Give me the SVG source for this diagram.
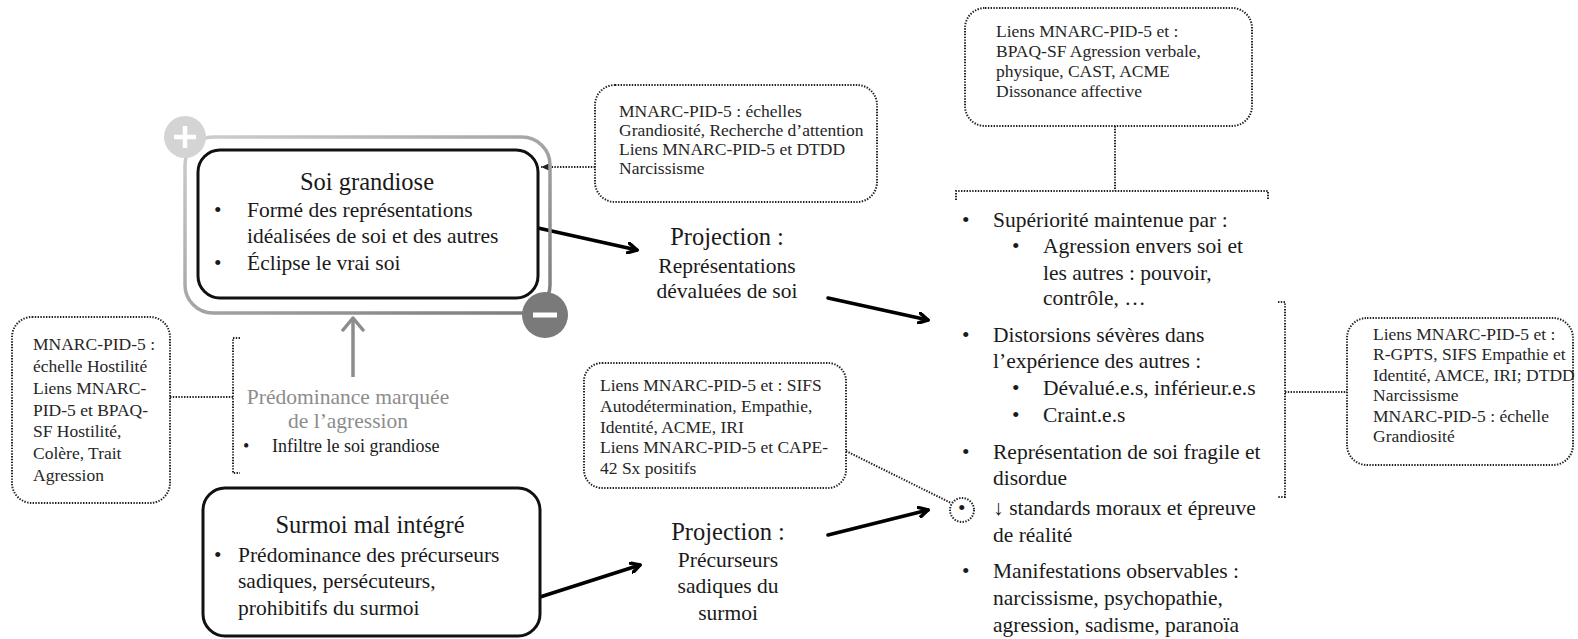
<svg xmlns="http://www.w3.org/2000/svg" width="1578" height="639" viewBox="0 0 1578 639">
<defs>
<style>
text{font-family:"Liberation Serif","Times New Roman",serif;fill:#1a1a1a}
.t{font-size:24.5px}
.b{font-size:21.5px}
.s{font-size:17.5px;fill:#262626}
.g{fill:#8c8c8c}
.box{fill:#fff;stroke:#111;stroke-width:3}
.dot{fill:none;stroke:#222;stroke-width:2;stroke-dasharray:1.4 1.4}
.arr{fill:none;stroke:#000;stroke-width:3.5;stroke-linecap:round}
</style>
<linearGradient id="gr" x1="0" y1="0" x2="1" y2="1">
<stop offset="0" stop-color="#cfcfcf"/>
<stop offset="1" stop-color="#7a7a7a"/>
</linearGradient>
<marker id="ah" markerWidth="12" markerHeight="12" refX="10" refY="6" orient="auto" markerUnits="userSpaceOnUse">
<path d="M1,1 L10,6 L1,11" fill="none" stroke="#000" stroke-width="3.5" stroke-linecap="round" stroke-linejoin="round"/>
</marker>
<marker id="ahg" markerWidth="24" markerHeight="24" refX="20" refY="12" orient="auto" markerUnits="userSpaceOnUse">
<path d="M8,2 L20,12 L8,22" fill="none" stroke="#8c8c8c" stroke-width="3.5" stroke-linecap="round" stroke-linejoin="round"/>
</marker>
<marker id="ahd" markerWidth="10" markerHeight="10" refX="9" refY="5" orient="auto" markerUnits="userSpaceOnUse">
<path d="M0,1 L9,5 L0,9 Z" fill="#222"/>
</marker>
</defs>

<g id="connectors">
<path class="arr" d="M538,228 L637,250" marker-end="url(#ah)"/>
<path class="arr" d="M828,298 L928,320" marker-end="url(#ah)"/>
<path class="arr" d="M540,597 L640,565" marker-end="url(#ah)"/>
<path class="arr" d="M828,535 L928,510" marker-end="url(#ah)"/>
<path d="M353,377 L353,318" fill="none" stroke="#8c8c8c" stroke-width="3.5" marker-end="url(#ahg)"/>
<path class="dot" d="M595,167 H541" marker-end="url(#ahd)"/>
<path class="dot" d="M1115,126 V191"/>
<path class="dot" d="M956,200 V191 H1268 V200"/>
<path class="dot" d="M1278,302 H1285 V497 H1278"/>
<path class="dot" d="M1285,392 H1347"/>
<path class="dot" d="M170,397 H233"/>
<path class="dot" d="M240,338 H233 V473 H240"/>
<path class="dot" d="M846,451 L951,503"/>
<circle class="dot" cx="962" cy="510" r="12"/>
</g>

<g id="outer-frame">
<rect x="185" y="137" width="365" height="176" rx="28" fill="none" stroke="url(#gr)" stroke-width="3.5"/>
<circle cx="185" cy="137" r="21" fill="#d4d4d4"/>
<path d="M174,137 H196 M185,126 V148" stroke="#fff" stroke-width="4.5"/>
<circle cx="545" cy="315" r="23" fill="#7a7a7a"/>
<path d="M533,315 H557" stroke="#fff" stroke-width="5"/>
</g>

<g id="soi-grandiose">
<rect class="box" x="198" y="150" width="340" height="148" rx="22"/>
<text class="t" x="367" y="190" text-anchor="middle">Soi grandiose</text>
<text class="b" x="214" y="217">•</text>
<text class="b" x="247" y="217">Formé des représentations</text>
<text class="b" x="247" y="243">idéalisées de soi et des autres</text>
<text class="b" x="214" y="270">•</text>
<text class="b" x="247" y="270">Éclipse le vrai soi</text>
</g>

<g id="surmoi">
<rect class="box" x="203" y="488" width="337" height="148" rx="22"/>
<text class="t" x="370" y="533" text-anchor="middle">Surmoi mal intégré</text>
<text class="b" x="214" y="562">•</text>
<text class="b" x="238" y="562">Prédominance des précurseurs</text>
<text class="b" x="238" y="588">sadiques, persécuteurs,</text>
<text class="b" x="238" y="615">prohibitifs du surmoi</text>
</g>

<g id="agression">
<text class="b g" x="348" y="404" text-anchor="middle">Prédominance marquée</text>
<text class="b g" x="348" y="428" text-anchor="middle">de l’agression</text>
<text x="243" y="452" style="font-size:18px">•</text>
<text x="272" y="452" style="font-size:18px">Infiltre le soi grandiose</text>
</g>

<g id="projection1">
<text class="t" x="727" y="245" text-anchor="middle">Projection :</text>
<text class="b" x="727" y="273" text-anchor="middle">Représentations</text>
<text class="b" x="727" y="298" text-anchor="middle">dévaluées de soi</text>
</g>

<g id="projection2">
<text class="t" x="728" y="540" text-anchor="middle">Projection :</text>
<text class="b" x="728" y="567" text-anchor="middle">Précurseurs</text>
<text class="b" x="728" y="593" text-anchor="middle">sadiques du</text>
<text class="b" x="728" y="620" text-anchor="middle">surmoi</text>
</g>

<g id="note-grandiosite">
<rect class="dot" x="595" y="85" width="282" height="117" rx="20"/>
<text class="s" x="619" y="117">MNARC-PID-5 : échelles</text>
<text class="s" x="619" y="136">Grandiosité, Recherche d’attention</text>
<text class="s" x="619" y="155">Liens MNARC-PID-5 et DTDD</text>
<text class="s" x="619" y="174">Narcissisme</text>
</g>

<g id="note-agression">
<rect class="dot" x="965" y="8" width="287" height="118" rx="20"/>
<text class="s" x="996" y="37">Liens MNARC-PID-5 et :</text>
<text class="s" x="996" y="57">BPAQ-SF Agression verbale,</text>
<text class="s" x="996" y="77">physique, CAST, ACME</text>
<text class="s" x="996" y="97">Dissonance affective</text>
</g>

<g id="note-hostilite">
<rect class="dot" x="12" y="317" width="158" height="186" rx="20"/>
<text class="s" x="33" y="350">MNARC-PID-5 :</text>
<text class="s" x="33" y="372">échelle Hostilité</text>
<text class="s" x="33" y="394">Liens MNARC-</text>
<text class="s" x="33" y="416">PID-5 et BPAQ-</text>
<text class="s" x="33" y="437">SF Hostilité,</text>
<text class="s" x="33" y="459">Colère, Trait</text>
<text class="s" x="33" y="481">Agression</text>
</g>

<g id="note-sifs">
<rect class="dot" x="584" y="363" width="262" height="125" rx="18"/>
<text class="s" x="600" y="391">Liens MNARC-PID-5 et : SIFS</text>
<text class="s" x="600" y="412">Autodétermination, Empathie,</text>
<text class="s" x="600" y="433">Identité, ACME, IRI</text>
<text class="s" x="600" y="453">Liens MNARC-PID-5 et CAPE-</text>
<text class="s" x="600" y="474">42 Sx positifs</text>
</g>

<g id="note-rgpts">
<rect class="dot" x="1347" y="318" width="226" height="147" rx="20"/>
<text class="s" x="1373" y="340">Liens MNARC-PID-5 et :</text>
<text class="s" x="1373" y="360">R-GPTS, SIFS Empathie et</text>
<text class="s" x="1373" y="381">Identité, AMCE, IRI; DTDD</text>
<text class="s" x="1373" y="401">Narcissisme</text>
<text class="s" x="1373" y="422">MNARC-PID-5 : échelle</text>
<text class="s" x="1373" y="442">Grandiosité</text>
</g>

<g id="consequences">
<text class="b" x="962" y="227">•</text>
<text class="b" x="993" y="227">Supériorité maintenue par :</text>
<text class="b" x="1012" y="253">•</text>
<text class="b" x="1043" y="253">Agression envers soi et</text>
<text class="b" x="1043" y="280">les autres : pouvoir,</text>
<text class="b" x="1043" y="305">contrôle, …</text>
<text class="b" x="962" y="342">•</text>
<text class="b" x="993" y="342">Distorsions sévères dans</text>
<text class="b" x="993" y="368">l’expérience des autres :</text>
<text class="b" x="1012" y="395">•</text>
<text class="b" x="1043" y="395">Dévalué.e.s, inférieur.e.s</text>
<text class="b" x="1012" y="422">•</text>
<text class="b" x="1043" y="422">Craint.e.s</text>
<text class="b" x="962" y="459">•</text>
<text class="b" x="993" y="459">Représentation de soi fragile et</text>
<text class="b" x="993" y="485">disordue</text>
<text class="b" x="958" y="515">•</text>
<text class="b" x="993" y="515">↓ standards moraux et épreuve</text>
<text class="b" x="993" y="542">de réalité</text>
<text class="b" x="962" y="578">•</text>
<text class="b" x="993" y="578">Manifestations observables :</text>
<text class="b" x="993" y="605">narcissisme, psychopathie,</text>
<text class="b" x="993" y="632">agression, sadisme, paranoïa</text>
</g>
</svg>
